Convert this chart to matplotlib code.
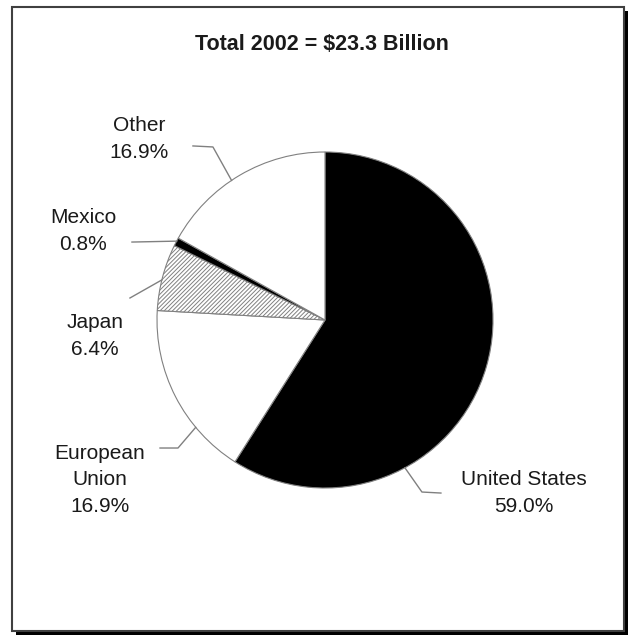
import numpy as np
import matplotlib
matplotlib.use('Agg')
import matplotlib.pyplot as plt
from matplotlib.patches import Rectangle

plt.rcParams['font.family'] = ['Liberation Sans', 'DejaVu Sans']
plt.rcParams['hatch.linewidth'] = 0.7

# data
title = 'Total 2002 = $23.3 Billion'
regions = ['United States', 'European\nUnion', 'Japan', 'Mexico', 'Other']
shares = [59.0, 16.9, 6.4, 0.8, 16.9]
colors = ['black', 'white', 'white', 'black', 'white']
hatches = [None, None, '////////', None, None]

# label layout (pie radius = 1, centre at 0,0)
label_pos = [(1.185, -1.03), (-1.339, -0.952), (-1.369, -0.095), (-1.44, 0.53), (-1.107, 1.077)]
# leader: angle on the rim, elbow point, end point
leaders = [
    (-61.6, (0.577, -1.024), (0.690, -1.030)),
    (-140.3, (-0.875, -0.762), (-0.982, -0.762)),
    (166.2, (-1.161, 0.131), None),
    (152.0, (-1.149, 0.464), None),
    (123.8, (-0.667, 1.030), (-0.786, 1.036)),
]

W, H = 632, 636
cx, cy, R = 325, 320, 168

fig = plt.figure(figsize=(W / 100, H / 100), dpi=100)

# frame with shadow
fig.patches.append(Rectangle((16 / W, 1 - 635 / H), 612 / W, 624 / H, transform=fig.transFigure,
                             facecolor='black', edgecolor='none', zorder=-2))
fig.patches.append(Rectangle((12 / W, 1 - 631 / H), 612 / W, 624 / H, transform=fig.transFigure,
                             facecolor='white', edgecolor='#404040', linewidth=1.5, zorder=-1))

ax = fig.add_axes([0, 0, 1, 1])
ax.patch.set_visible(False)
wedges, _ = ax.pie(shares, colors=colors, startangle=90, counterclock=False,
                   wedgeprops=dict(edgecolor='#808080', linewidth=0.8))
for w, h in zip(wedges, hatches):
    if h:
        w.set_hatch(h)

ax.set_xlim(-cx / R, (W - cx) / R)
ax.set_ylim(-(H - cy) / R, cy / R)
ax.set_aspect('auto')
ax.axis('off')

for name, val, pos, (ang, elbow, end) in zip(regions, shares, label_pos, leaders):
    ax.text(pos[0], pos[1], '%s\n%.1f%%' % (name, val), ha='center', va='center',
            fontsize=15, color='#1a1a1a', linespacing=1.5)
    a = np.deg2rad(ang)
    xs = [np.cos(a), elbow[0]]
    ys = [np.sin(a), elbow[1]]
    if end is not None:
        xs.append(end[0])
        ys.append(end[1])
    ax.plot(xs, ys, color='#808080', linewidth=1.0)

fig.text(322 / W, 1 - 45 / H, title, ha='center', va='center', fontsize=15.5,
         fontweight='bold', color='#1a1a1a')

plt.savefig('out.png', dpi=100)
